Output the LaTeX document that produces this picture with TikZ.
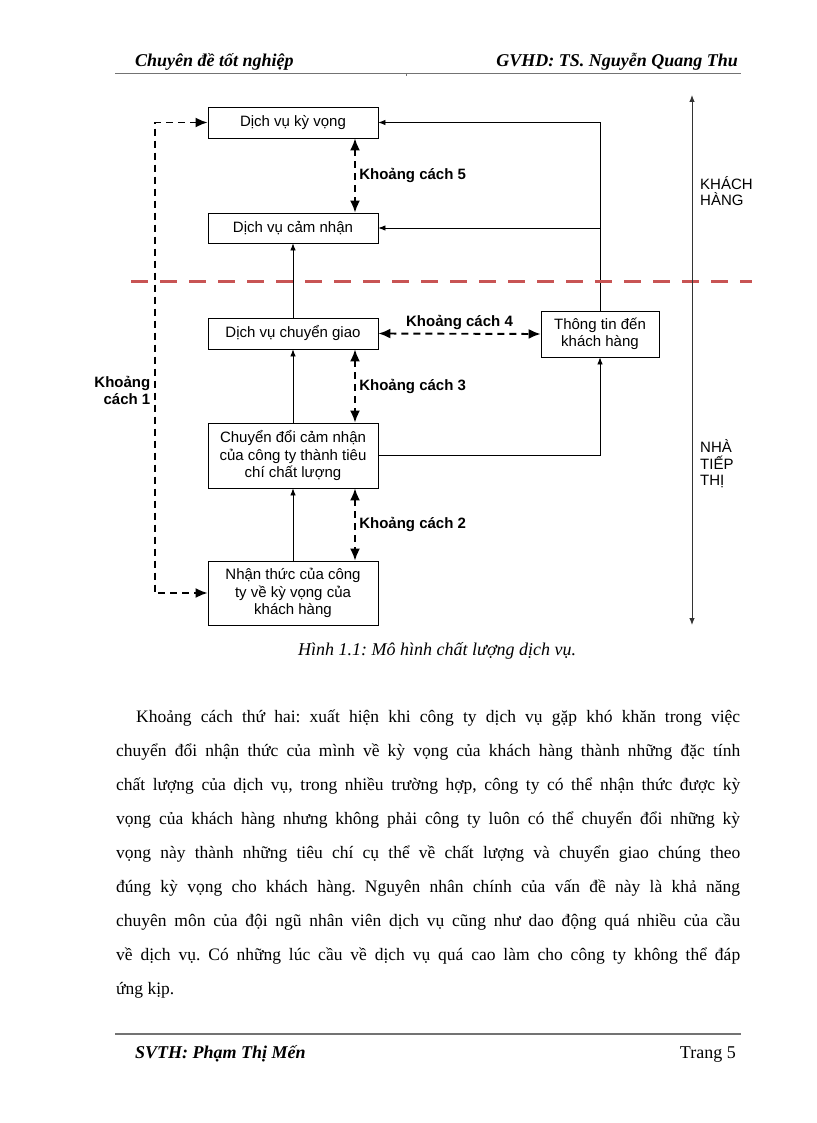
\documentclass[tikz,border=0pt]{standalone}
\usepackage{fontspec}
\setmainfont{Liberation Serif}
\setsansfont{Liberation Sans}
\usetikzlibrary{arrows.meta}
\definecolor{gapred}{RGB}{200,84,84}
\colorlet{rulegray}{black!55}
\frenchspacing
\tikzset{%
  >={Latex[length=7pt,width=5.5pt]}, % default arrow style
  box/.style={draw,line width=.8pt,minimum width=170pt,align=center,inner sep=0pt,
    font=\sffamily\fontsize{15}{17.5}\selectfont},%
  gap/.style={arrows={Latex[length=12pt,width=10pt]-Latex[length=12pt,width=10pt]},
    dash pattern=on 7pt off 5pt,line width=1.9pt},%
  gaplbl/.style={font=\sffamily\bfseries\fontsize{15}{17}\selectfont},%
  feed/.style={->,line width=.8pt},%
  side/.style={anchor=west,inner sep=0pt,align=left,font=\sffamily\fontsize{15}{16.5}\selectfont},%
  headtxt/.style={inner sep=0pt,font=\fontsize{18}{20}\selectfont\bfseries\itshape}%
}

\begin{document}
\begin{tikzpicture}[x=1pt,y=-1pt]
  \useasboundingbox (0,0) rectangle (816,1123);
  % header
  \node[headtxt,anchor=base west] (hleft) at (135,67) {Chuyên đề tốt nghiệp};
  \node[headtxt,anchor=base east] (hright) at (738,67) {GVHD: TS. Nguyễn Quang Thu};
  \draw[rulegray,line width=.8pt] (115,73) -- (741,73);
  \draw[rulegray,line width=.6pt] (406,73) -- (406,76);
  % boxes
  \node[box,minimum height=31pt] (expect) at (293,122.5) {Dịch vụ kỳ vọng};
  \node[box,minimum height=30pt] (perc)   at (293,228)   {Dịch vụ cảm nhận};
  \node[box,minimum height=31pt] (deliv)  at (293,333.5) {Dịch vụ chuyển giao};
  \node[box,minimum height=65pt] (conv)   at (293,455.5) {Chuyển đổi cảm nhận\\của công ty thành tiêu\\chí chất lượng};
  \node[box,minimum height=64pt] (aware)  at (293,593)   {Nhận thức của công\\ty về kỳ vọng của\\khách hàng};
  \node[box,minimum width=118pt,minimum height=46pt] (info) at (600,334) {Thông tin đến\\khách hàng};
  % solid links
  \draw[feed] (deliv) -- (perc);
  \draw[feed] (conv) -- (deliv);
  \draw[feed] (aware) -- (conv);
  \draw[feed] (info.north) |- (expect.east);
  \draw[feed] (info.north |- perc.east) -- (perc.east);
  \draw[feed] (conv.east) -| (info.south);
  % gaps
  \coordinate (gx) at (355,0);
  \draw[gap] (expect.south -| gx) -- node[gaplbl,right] {Khoảng cách 5} (perc.north -| gx);
  \draw[gap] (deliv.south -| gx)  -- node[gaplbl,right] {Khoảng cách 3} (conv.north -| gx);
  \draw[gap] (conv.south -| gx)   -- node[gaplbl,right] {Khoảng cách 2} (aware.north -| gx);
  \draw[gap] (deliv.east) -- node[gaplbl,above] {Khoảng cách 4} (info.west);
  \draw[gap] (expect.west) -- ++(-53,0) |- node[gaplbl,left,pos=.285,align=right] {Khoảng\\cách 1} (aware.west);
  % border customer / marketer
  \draw[gapred,line width=3pt,dash pattern=on 17pt off 12pt] (131,281) -- (752,281);
  \coordinate (top) at (692,95);
  \coordinate (bot) at (692,625);
  \draw[<->,line width=.9pt,black!80] (top) -- (bot);
  \node[side] (cust) at (700,191) {KHÁCH\\HÀNG};
  \node[side] (mkt)  at (700,464) {NHÀ\\TIẾP\\THỊ};
  % caption
  \node[anchor=base west,inner sep=0pt,font=\fontsize{18}{20}\selectfont\itshape] (cap) at (298,655) {Hình 1.1: Mô hình chất lượng dịch vụ.};
  % text
  \node[anchor=base west,inner sep=0pt,text width=624pt,align=justify,font=\fontsize{17.5}{34}\selectfont] (body) at (116,722) {%
    \hspace*{20pt}Khoảng cách thứ hai: xuất hiện khi công ty dịch vụ gặp khó khăn trong việc\linebreak
    chuyển đổi nhận thức của mình về kỳ vọng của khách hàng thành những đặc tính\linebreak
    chất lượng của dịch vụ, trong nhiều trường hợp, công ty có thể nhận thức được kỳ\linebreak
    vọng của khách hàng nhưng không phải công ty luôn có thể chuyển đổi những kỳ\linebreak
    vọng này thành những tiêu chí cụ thể về chất lượng và chuyển giao chúng theo\linebreak
    đúng kỳ vọng cho khách hàng. Nguyên nhân chính của vấn đề này là khả năng\linebreak
    chuyên môn của đội ngũ nhân viên dịch vụ cũng như dao động quá nhiều của cầu\linebreak
    về dịch vụ. Có những lúc cầu về dịch vụ quá cao làm cho công ty không thể đáp\linebreak
    ứng kịp.};
  % footer
  \draw[rulegray,line width=1.2pt] (115,1034) -- (741,1034);
  \node[headtxt,anchor=base west] (fleft) at (135,1058) {SVTH: Phạm Thị Mến};
  \node[anchor=base east,inner sep=0pt,font=\fontsize{18}{20}\selectfont] (fright) at (736,1058) {Trang 5};
\end{tikzpicture}
\end{document}
